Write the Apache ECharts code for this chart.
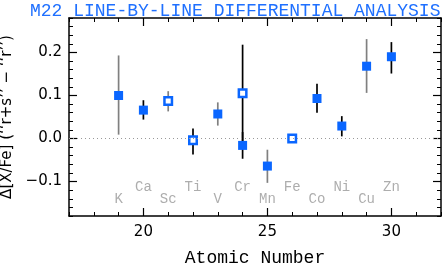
<!DOCTYPE html>
<html>
<head>
<meta charset="utf-8">
<script src="https://cdn.jsdelivr.net/npm/echarts@6/dist/echarts.min.js"></script>
<style>
html,body{margin:0;padding:0;background:#fff;}
#chart{width:443px;height:269px;}
</style>
</head>
<body>
<div id="chart"></div>
<script>
// ---- data ----
const atomicNumber = [19, 20, 21, 22, 23, 24, 24, 25, 26, 27, 28, 29, 30];
const deltaXFe     = [0.100, 0.066, 0.087, -0.004, 0.057, 0.105, -0.016, -0.064, 0.000, 0.093, 0.029, 0.168, 0.190];
const errLow       = [0.009, 0.044, 0.063, -0.037, 0.030, -0.008, -0.047, -0.103, 0.000, 0.060, 0.005, 0.106, 0.151];
const errHigh      = [0.193, 0.089, 0.110, 0.023, 0.084, 0.218, 0.015, -0.026, 0.000, 0.127, 0.052, 0.231, 0.224];
const isOpen       = [false, false, true, true, false, true, false, false, true, false, false, false, false];
const barIsGray    = [true, false, true, false, true, false, false, true, false, false, false, true, false];

const elementNames = ['K', 'Ca', 'Sc', 'Ti', 'V', 'Cr', 'Mn', 'Fe', 'Co', 'Ni', 'Cu', 'Zn'];
const elementZ     = [19, 20, 21, 22, 23, 24, 25, 26, 27, 28, 29, 30];
const elementLabelY = [-0.142, -0.114, -0.142, -0.114, -0.142, -0.114, -0.142, -0.114, -0.142, -0.114, -0.142, -0.114];

const xMajorTicks = [20, 25, 30];
const yMajorTicks = [-0.1, 0.0, 0.1, 0.2];

const titleText = 'M22 LINE-BY-LINE DIFFERENTIAL ANALYSIS';
const xName = 'Atomic Number';
const yName = 'Δ[X/Fe] (‘‘r+s’’ − ‘‘r’’)';

// ---- styles ----
const BLUE = '#0a66ff';
const GRAY_BAR = '#808080';
const LABEL_GRAY = '#999999';

const errData = atomicNumber.map((z, i) => [z, errLow[i], errHigh[i], barIsGray[i] ? 1 : 0]).filter(d => d[1] !== d[2]);
const filledData = atomicNumber.map((z, i) => [z, deltaXFe[i]]).filter((d, i) => !isOpen[i]);
const openData = atomicNumber.map((z, i) => [z, deltaXFe[i]]).filter((d, i) => isOpen[i]);
const labelData = elementZ.map((z, i) => ({ value: [z, elementLabelY[i]], name: elementNames[i] }));

const yFmt = v => (v < -1e-9 ? '\u2212' : '') + Math.abs(v).toFixed(1);

function xAx(pos, major) {
  return {
    type: 'value', position: pos, min: 17, max: 32,
    interval: major ? undefined : 1,
    axisLine: { show: !major, onZero: false, lineStyle: { color: '#000', width: 1.5 } },
    axisTick: major
      ? { show: true, inside: true, length: 8, customValues: xMajorTicks, lineStyle: { color: '#000', width: 1.2 } }
      : { show: true, inside: true, length: 4, lineStyle: { color: '#000', width: 1 } },
    axisLabel: (major && pos === 'bottom')
      ? { show: true, customValues: xMajorTicks, margin: 9, fontFamily: 'DejaVu Sans', fontSize: 15, color: '#000' }
      : { show: false },
    splitLine: { show: false },
    name: (major && pos === 'bottom') ? xName : '',
    nameLocation: 'middle', nameGap: 33,
    nameTextStyle: { fontFamily: 'Liberation Mono', fontSize: 18, color: '#000' }
  };
}
function yAx(pos, major) {
  return {
    type: 'value', position: pos, min: -0.18, max: 0.28,
    interval: major ? undefined : 0.02,
    axisLine: { show: !major, onZero: false, lineStyle: { color: '#000', width: 1.5 } },
    axisTick: major
      ? { show: true, inside: true, length: 8, customValues: yMajorTicks, lineStyle: { color: '#000', width: 1.2 } }
      : { show: true, inside: true, length: 4, lineStyle: { color: '#000', width: 1 } },
    axisLabel: (major && pos === 'left')
      ? { show: true, customValues: yMajorTicks, formatter: yFmt, margin: 7, fontFamily: 'DejaVu Sans', fontSize: 15, color: '#000' }
      : { show: false },
    splitLine: { show: false },
    name: (major && pos === 'left') ? yName : '',
    nameLocation: 'middle', nameGap: 49, nameRotate: 90,
    nameTextStyle: { fontFamily: 'DejaVu Sans', fontSize: 15, color: '#000' }
  };
}

const chart = echarts.init(document.getElementById('chart'), null, { renderer: 'canvas' });
chart.setOption({
  animation: false,
  backgroundColor: '#fff',
  title: {
    text: titleText, left: 25, top: -3,
    textStyle: { fontFamily: 'Liberation Mono', fontSize: 18, fontWeight: 'normal', color: '#1f70ff' }
  },
  grid: { left: 69, right: 2, top: 18, bottom: 53, containLabel: false, outerBoundsMode: 'none' },
  xAxis: [xAx('bottom', false), xAx('bottom', true), xAx('top', false), xAx('top', true)],
  yAxis: [yAx('left', false), yAx('left', true), yAx('right', false), yAx('right', true)],
  series: [
    {
      type: 'scatter', symbolSize: 0, xAxisIndex: 0, yAxisIndex: 0, silent: true,
      data: labelData,
      label: { show: true, position: 'inside', formatter: p => p.name,
               fontFamily: 'Liberation Mono', fontSize: 14, color: LABEL_GRAY },
      markLine: {
        silent: true, symbol: 'none', animation: false,
        label: { show: false },
        lineStyle: { color: '#999', width: 1, type: [1, 3] },
        data: [{ yAxis: 0 }]
      },
      z: 1
    },
    {
      type: 'custom', xAxisIndex: 0, yAxisIndex: 0, silent: true,
      data: errData,
      renderItem: (params, api) => {
        const p1 = api.coord([api.value(0), api.value(1)]);
        const p2 = api.coord([api.value(0), api.value(2)]);
        return {
          type: 'line',
          shape: { x1: p1[0], y1: p1[1], x2: p2[0], y2: p2[1] },
          style: { stroke: api.value(3) === 1 ? GRAY_BAR : '#000', lineWidth: 1.7 }
        };
      },
      z: 2
    },
    {
      type: 'scatter', xAxisIndex: 0, yAxisIndex: 0, symbol: 'rect', symbolSize: 9,
      itemStyle: { color: BLUE, opacity: 1 }, data: filledData, z: 3
    },
    {
      type: 'scatter', xAxisIndex: 0, yAxisIndex: 0, symbol: 'rect', symbolSize: 7.5,
      itemStyle: { color: '#fff', borderColor: BLUE, borderWidth: 2.5, opacity: 1 }, data: openData, z: 3
    }
  ]
});
</script>
</body>
</html>
